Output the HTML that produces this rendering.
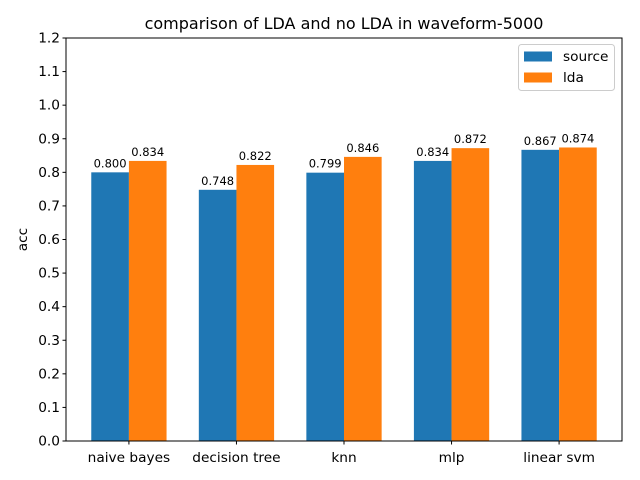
<!DOCTYPE html>
<html><head><meta charset="utf-8"><style>
body{margin:0;background:#fff;}
svg{display:block;font-family:"DejaVu Sans","Liberation Sans",sans-serif;}
</style></head><body>
<svg id="c" width="640" height="480"></svg>
<script>
const categories=["naive bayes","decision tree","knn","mlp","linear svm"];
const sourceVals=[0.800,0.748,0.799,0.834,0.867];
const ldaVals=[0.834,0.822,0.846,0.872,0.874];
const yTicks=[0,0.1,0.2,0.3,0.4,0.5,0.6,0.7,0.8,0.9,1.0,1.1,1.2];
const seriesNames=["source","lda"];

const L=66,R=622,T=38,B=441;
const bw=0.35;
const xmin=-bw-0.05*(categories.length-1+2*bw), xmax=categories.length-1+bw+0.05*(categories.length-1+2*bw);
const X=v=>L+(v-xmin)/(xmax-xmin)*(R-L);
const Y=v=>B-(v-0)/(1.2-0)*(B-T);
const svg=document.getElementById('c');
const NS="http://www.w3.org/2000/svg";
function mk(tag,attrs,txt){const e=document.createElementNS(NS,tag);for(const k in attrs)e.setAttribute(k,attrs[k]);if(txt!==undefined)e.textContent=txt;svg.appendChild(e);return e;}

const colors=["#1f77b4","#ff7f0e"];
[sourceVals,ldaVals].forEach((vals,s)=>{
  vals.forEach((v,i)=>{
    const x0=X(i-bw+s*bw), x1=X(i+s*bw);
    const r=mk('rect',{x:x0,y:Y(v),width:x1-x0,height:Y(0)-Y(v),fill:colors[s]});
    
    
    const t=mk('text',{x:(x0+x1)/2,y:Y(v)-5,'text-anchor':'middle','font-size':'11.5'},v.toFixed(3));
    
    
  });
});

const f=mk('rect',{x:L,y:T,width:R-L,height:B-T,fill:'none',stroke:'#000','stroke-width':1});



yTicks.forEach(v=>{
  mk('line',{x1:L-3.5,x2:L,y1:Y(v),y2:Y(v),stroke:'#000'});
  const t=mk('text',{x:L-6,y:Y(v)+4.5,'text-anchor':'end','font-size':'13.7'},v.toFixed(1));
  
  
});
categories.forEach((c,i)=>{
  mk('line',{x1:X(i),x2:X(i),y1:B,y2:B+3.5,stroke:'#000'});
  const t=mk('text',{x:X(i),y:B+21,'text-anchor':'middle','font-size':'13.7'},c);
  
  
});

const yt=mk('text',{x:27,y:(T+B)/2,'text-anchor':'middle','font-size':'13.7',transform:`rotate(-90 27 ${(T+B)/2})`},'acc');


const tt=mk('text',{x:(L+R)/2,y:29,'text-anchor':'middle','font-size':'16'},'comparison of LDA and no LDA in waveform-5000');



const lg=mk('rect',{x:518.5,y:44.5,width:96,height:46,rx:3,fill:'#fff',stroke:'#ccc'});


seriesNames.forEach((n,s)=>{
  const y=56+s*21;
  mk('rect',{x:524,y:y-4.5,width:28,height:10,fill:colors[s]});
  const t=mk('text',{x:563,y:y+5,'font-size':'13.7'},n);
  
  
});
</script>
</body></html>
